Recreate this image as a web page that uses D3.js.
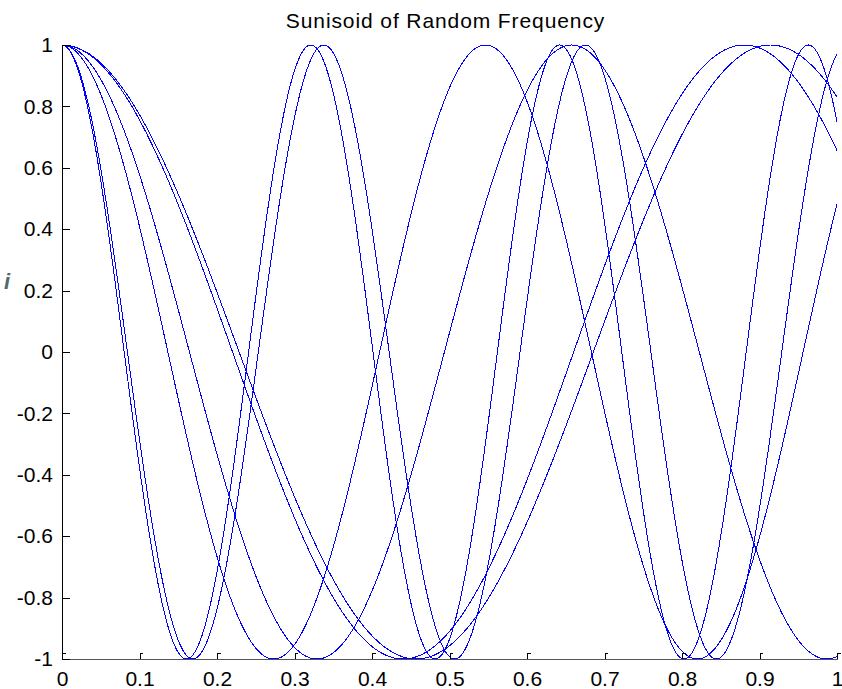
<!DOCTYPE html>
<meta charset="utf-8">
<style>
body { margin: 0; background: #fff; }
svg { display: block; font-family: "Liberation Sans", Arial, sans-serif; }
.curves path { fill: none; stroke: #0000ff; stroke-width: 1; }
.tick text { font-size: 21px; fill: #000; }
</style>
<body>
<svg width="842" height="689"></svg>
<script src="https://cdn.jsdelivr.net/npm/d3@7"></script>
<script>
// frequencies of the six cosines, read from peaks / crossings
var frequencies = [3.115, 2.961, 1.83, 1.52, 1.136, 1.094];
var xTicks = [0, 0.1, 0.2, 0.3, 0.4, 0.5, 0.6, 0.7, 0.8, 0.9, 1];
var yTicks = [-1, -0.8, -0.6, -0.4, -0.2, 0, 0.2, 0.4, 0.6, 0.8, 1];
var title = "Sunisoid of Random Frequency";

var svg = d3.select("svg");
var plotLeft = 62, plotRight = 837, plotTop = 45, plotBottom = 659;

var x = d3.scaleLinear().domain([0, 1]).range([plotLeft, plotRight]);
var y = d3.scaleLinear().domain([-1, 1]).range([plotBottom, plotTop]);

// sample points along t
var t = d3.range(0, 1.0001, 0.001);

var line = d3.line()
    .x(function(d) { return x(d[0]); })
    .y(function(d) { return y(d[1]); });

svg.append("g")
    .attr("class", "curves")
  .selectAll("path")
  .data(frequencies)
  .enter().append("path")
    .attr("shape-rendering", "crispEdges")
    .attr("d", function(f) {
      return line(t.map(function(v) { return [v, Math.cos(2 * Math.PI * f * v)]; }));
    });

// x axis
var xAxis = svg.append("g")
    .attr("transform", "translate(0," + plotBottom + ")")
    .call(d3.axisBottom(x)
      .tickValues(xTicks)
      .tickSize(-6)
      .tickSizeOuter(0)
      .tickPadding(12)
      .tickFormat(function(d) { return String(d); }));
xAxis.select(".domain").attr("stroke", "#555").attr("shape-rendering", "crispEdges");
xAxis.selectAll(".tick line").attr("stroke", "#000").attr("shape-rendering", "crispEdges");
xAxis.selectAll(".tick").append("line")
    .attr("x1", 0).attr("x2", 3).attr("y1", -6).attr("y2", -6)
    .attr("stroke", "#000").attr("shape-rendering", "crispEdges");
xAxis.attr("font-size", null).attr("font-family", null);

// y axis
var yAxis = svg.append("g")
    .attr("transform", "translate(" + plotLeft + ",0)")
    .call(d3.axisLeft(y)
      .tickValues(yTicks)
      .tickSize(-8)
      .tickSizeOuter(0)
      .tickPadding(9)
      .tickFormat(function(d) { return String(d); }));
yAxis.select(".domain").attr("stroke", "#000").attr("shape-rendering", "crispEdges");
yAxis.selectAll(".tick line").attr("stroke", "#000").attr("shape-rendering", "crispEdges");
yAxis.attr("font-size", null).attr("font-family", null);

svg.append("text")
    .attr("x", (plotLeft + plotRight) / 2 - 4)
    .attr("y", 28)
    .attr("text-anchor", "middle")
    .attr("font-size", 21)
    .attr("letter-spacing", 0.9)
    .text(title);

// stray mark left of the y axis
svg.append("text")
    .attr("x", 4)
    .attr("y", 289)
    .attr("font-size", 22)
    .attr("font-weight", "bold")
    .attr("font-style", "italic")
    .attr("fill", "#4f6b6e")
    .text("i");
</script>
</body>
